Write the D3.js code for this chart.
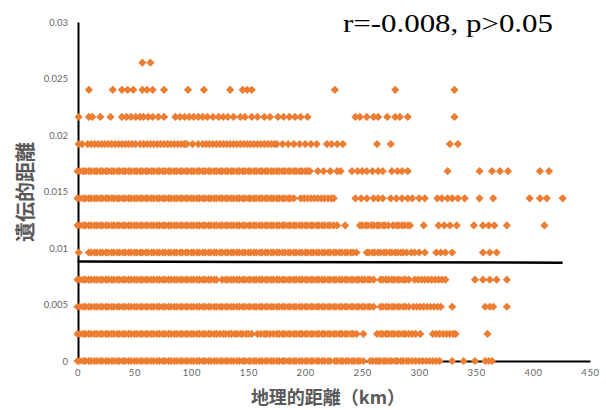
<!DOCTYPE html>
<html>
<head>
<meta charset="utf-8">
<script src="https://cdn.jsdelivr.net/npm/d3@7/dist/d3.min.js"></script>
<style>
  html, body { margin: 0; padding: 0; background: #fff; }
  svg { display: block; }
</style>
</head>
<body>
<svg id="chart" width="606" height="410"></svg>
<script>
// Genetic distance levels (one per horizontal band of points)
const geneticLevels = [0, 0.0024, 0.0048, 0.0072, 0.0096, 0.012, 0.0144, 0.0168, 0.0192, 0.0216, 0.024, 0.0264];

// Geographic distances (km) of the population pairs found at each genetic-distance level
const geoAtLevel0 = [0,2,5,7,10,12,15,17,20,22,25,27,30,32,35,37,40,42,45,47,50,52,55,57,60,62,65,67,70,72,75,77,80,82,85,87,90,92,95,97,100,102,105,107,110,112,115,117,120,122,125,127,130,132,135,137,140,142,145,147,150,152,155,157,160,162,165,167,170,172,175,177,180,182,185,187,190,192,195,197,200,202,205,207,210,212,215,217,220,222,226,228,231,233,236,238,241,243,246,248,251,257,259,262,264,266,269,271,274,276,279,281,284,286,289,291,294,297,300,303,306,309,312,315,318,329,339,349,358,361,364];
const geoAtLevel1 = [0,2,5,7,10,12,15,17,20,22,25,27,30,32,35,37,40,42,45,47,50,52,55,57,60,62,65,67,70,72,75,77,80,82,85,87,90,92,95,97,100,102,105,107,110,112,115,117,120,122,125,128,130,133,135,138,140,143,145,148,150,153,158,161,164,166,169,172,175,177,180,182,185,187,190,192,195,197,200,202,205,207,210,212,215,217,220,222,225,227,230,232,235,237,240,242,245,251,263,266,268,271,273,276,278,281,283,286,288,291,294,297,301,312,315,318,321,324,327,330,332,360];
const geoAtLevel2 = [0,2,5,7,10,12,15,17,20,22,25,27,30,32,35,37,40,42,45,47,50,52,55,57,60,62,65,67,70,72,75,77,80,82,85,87,90,92,95,97,100,102,105,107,110,112,115,117,120,122,125,127,130,132,135,137,140,142,145,147,150,152,155,157,160,162,165,167,170,172,175,177,180,182,185,187,190,192,195,197,200,202,205,207,210,212,215,217,220,222,225,227,230,232,235,237,240,242,245,247,250,252,255,257,260,266,268,271,273,276,278,281,283,286,288,291,295,298,301,304,307,310,313,316,319,329,358,362,365,377];
const geoAtLevel3 = [0,2,5,7,10,12,15,17,20,22,25,27,30,32,35,37,40,42,45,47,50,52,55,57,60,62,65,67,70,72,75,77,80,82,85,87,90,92,95,97,100,102,105,107,110,112,115,117,120,122,127,130,132,135,137,140,142,145,147,150,152,155,157,160,162,165,167,170,172,175,177,180,182,185,187,190,192,195,197,200,202,205,207,210,212,215,217,220,222,225,227,230,232,235,237,240,242,245,247,250,252,255,257,260,266,268,271,273,276,278,281,283,286,288,291,296,299,302,305,308,311,314,317,320,323,349,356,362,368,377];
const geoAtLevel4 = [1,10,12,15,17,20,22,25,27,30,32,35,37,40,42,45,47,50,52,55,57,60,62,65,67,70,72,75,77,80,82,85,87,90,92,95,97,100,102,105,107,110,112,115,117,120,122,125,127,130,132,135,137,140,142,145,147,150,152,155,157,160,162,165,167,170,172,175,177,180,182,185,187,190,192,195,197,200,202,205,207,210,212,215,217,220,222,225,227,230,232,235,237,240,242,245,254,256,259,261,264,266,269,271,274,276,279,281,284,286,289,293,296,300,305,315,319,323,329,356,362,368];
const geoAtLevel5 = [0,2,5,7,10,12,15,17,20,22,25,27,30,32,35,37,40,42,45,47,50,52,55,57,60,62,65,67,70,72,75,77,80,82,85,87,90,92,95,97,100,102,105,107,110,112,115,117,120,122,125,127,130,132,135,137,140,142,145,147,150,152,155,157,160,162,165,167,170,172,175,177,180,182,185,187,190,192,195,197,200,202,205,207,210,212,215,217,220,222,225,228,235,248,250,253,255,258,260,263,265,268,270,273,277,280,282,285,287,290,292,304,317,322,327,333,348,356,361,366,377,410];
const geoAtLevel6 = [0,2,5,7,10,12,15,17,20,22,25,27,30,32,35,37,40,42,45,47,50,52,55,57,60,62,65,67,70,72,75,77,80,82,85,87,90,92,95,97,100,102,105,107,110,112,115,117,120,122,125,127,130,132,135,137,140,142,145,147,150,152,155,157,160,162,165,167,170,172,175,177,180,182,185,187,190,196,199,202,205,208,211,214,217,220,223,225,244,249,254,260,264,268,275,280,285,290,294,300,305,316,320,325,329,334,340,353,365,397,406,412,426];
const geoAtLevel7 = [0,2,5,7,10,12,15,17,20,22,25,27,30,32,35,37,40,42,45,47,50,52,55,57,60,62,65,67,70,72,75,77,80,82,85,87,90,92,95,97,100,102,105,107,110,112,115,117,120,122,125,127,130,132,135,137,140,142,145,147,150,152,155,157,160,162,165,167,170,172,175,177,180,182,185,187,190,192,195,197,200,202,204,211,216,222,228,231,241,246,250,254,259,264,268,276,281,285,290,325,353,364,371,378,406,414];
const geoAtLevel8 = [1,4,9,12,15,18,21,24,27,30,33,36,39,42,45,48,51,55,58,61,64,67,70,73,76,79,82,85,88,91,94,96,101,106,110,113,116,119,122,125,128,131,134,137,140,143,146,149,152,155,158,161,164,167,170,173,175,180,185,190,195,200,205,210,219,223,228,233,263,275,327,334];
const geoAtLevel9 = [1,10,13,20,29,39,43,47,51,55,58,62,66,71,76,86,90,94,98,102,106,110,114,119,124,128,132,137,143,147,153,158,164,169,176,181,186,191,196,202,244,248,254,260,264,272,279,283,290,331];
const geoAtLevel10 = [10,31,39,44,49,57,61,66,76,97,111,134,145,149,153,226,279,331];
const geoAtLevel11 = [57,64];

const geoByLevel = [geoAtLevel0, geoAtLevel1, geoAtLevel2, geoAtLevel3, geoAtLevel4, geoAtLevel5,
                    geoAtLevel6, geoAtLevel7, geoAtLevel8, geoAtLevel9, geoAtLevel10, geoAtLevel11];

// Fitted regression line end points
const trendKm = [0, 426];
const trendGenetic = [0.0088, 0.0087];

// Axis ticks
const xTicks = [0, 50, 100, 150, 200, 250, 300, 350, 400, 450];
const yTicks = [0, 0.005, 0.01, 0.015, 0.02, 0.025, 0.03];

const statsLabel = "r=-0.008, p>0.05";
const xTitle = "地理的距離（km）";
const yTitle = "遺伝的距離";

const svg = d3.select("#chart");

const x = d3.scaleLinear().domain([0, 450]).range([77.5, 590]);
const y = d3.scaleLinear().domain([0, 0.03]).range([361, 22]);

// Flatten bands into points
const points = [];
geoByLevel.forEach((arr, i) => arr.forEach(km => points.push({ km, g: geneticLevels[i] })));

// Axes
const xAxis = d3.axisBottom(x).tickValues(xTicks).tickSize(0).tickPadding(8).tickFormat(d3.format("d"));
const yAxis = d3.axisLeft(y).tickValues(yTicks).tickSize(0).tickPadding(10)
  .tickFormat(d => d === 0 ? "0" : d3.format(".3~f")(d));

const gx = svg.append("g").attr("transform", "translate(0,361)").call(xAxis);
const gy = svg.append("g").attr("transform", "translate(78,0)").call(yAxis);

[gx, gy].forEach(g => {
  g.select(".domain").attr("stroke", "#000").attr("stroke-width", 2);
  g.selectAll("text")
    .attr("fill", "#666")
    .style("font-family", "Lato, 'Open Sans', sans-serif")
    .style("font-size", "9.5px");
});
gx.selectAll("text").style("letter-spacing", "0.6px");

// Scatter points (diamonds)
const r = 4.1;
const diamond = `M0,${-r}L${r},0L0,${r}L${-r},0Z`;
svg.append("g")
  .selectAll("path")
  .data(points)
  .join("path")
  .attr("d", diamond)
  .attr("transform", d => `translate(${x(d.km)},${y(d.g)})`)
  .attr("fill", "#ED7D31");

// Regression line
svg.append("path")
  .datum(trendKm.map((k, i) => [k, trendGenetic[i]]))
  .attr("d", d3.line().x(d => x(d[0])).y(d => y(d[1])))
  .attr("stroke", "#000")
  .attr("stroke-width", 2.6)
  .attr("fill", "none");

// Axis titles
svg.append("text")
  .attr("x", 328).attr("y", 404)
  .attr("text-anchor", "middle")
  .attr("fill", "#595959")
  .style("font-family", "'Noto Sans CJK JP', sans-serif")
  .style("font-weight", "bold")
  .style("font-size", "18px")
  .text(xTitle);

svg.append("text")
  .attr("transform", "translate(33,192) rotate(-90)")
  .attr("text-anchor", "middle")
  .attr("fill", "#595959")
  .style("font-family", "'Noto Sans CJK JP', sans-serif")
  .style("font-weight", "bold")
  .style("font-size", "20px")
  .text(yTitle);

// Correlation annotation
svg.append("text")
  .attr("x", 343).attr("y", 32)
  .attr("fill", "#000")
  .attr("textLength", 210)
  .attr("lengthAdjust", "spacingAndGlyphs")
  .style("font-family", "'Liberation Serif', 'DejaVu Serif', serif")
  .style("font-size", "26px")
  .text(statsLabel);
</script>
</body>
</html>
